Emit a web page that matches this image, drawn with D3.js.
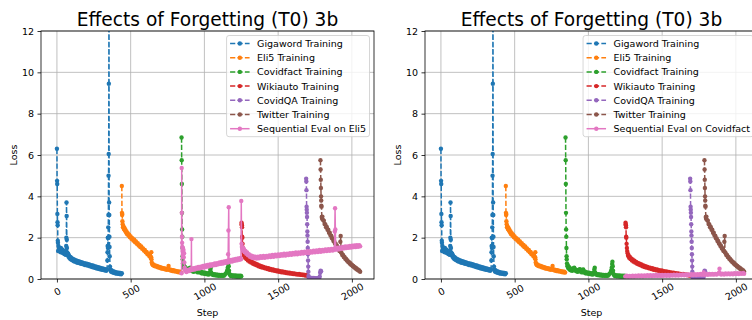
<!DOCTYPE html>
<html>
<head>
<meta charset="utf-8">
<script src="https://cdn.jsdelivr.net/npm/d3@7/dist/d3.min.js"></script>
<style>
  body { margin: 0; background: #fff; }
  svg { display: block; font-family: "DejaVu Sans", sans-serif; }
</style>
</head>
<body>
<svg id="chart" width="752" height="320"></svg>
<script>
// [step, loss] pairs
const gigaword = [[0,6.3],[1,4.75],[2,4.6],[3,3.15],[4,2.75],[5,2.6],[6,1.85],[7,1.75],[8,1.35],[10,1.6],[12,1.4],[15,1.52],[18,1.35],[21,1.47],[24,1.3],[27,1.5],[30,1.33],[33,1.42],[36,1.27],[39,1.42],[42,1.28],[45,1.36],[48,1.22],[51,1.33],[54,1.2],[57,1.3],[60,1.17],[62,1.35],[63,1.6],[64,2.0],[65,3.7],[66,3.05],[67,1.9],[68,1.5],[70,1.28],[73,1.15],[76,1.22],[79,1.08],[82,1.14],[85,1.02],[88,1.08],[91,0.97],[95,1.04],[99,0.93],[103,1.0],[107,0.9],[111,0.96],[115,0.86],[120,0.93],[125,0.83],[130,0.9],[135,0.8],[140,0.87],[145,0.78],[150,0.85],[155,0.76],[160,0.82],[166,0.73],[172,0.8],[178,0.71],[184,0.77],[190,0.68],[196,0.75],[202,0.66],[208,0.73],[214,0.64],[220,0.7],[226,0.61],[232,0.67],[238,0.58],[244,0.65],[250,0.56],[256,0.62],[262,0.53],[268,0.6],[274,0.5],[280,0.57],[286,0.48],[292,0.55],[298,0.46],[304,0.52],[310,0.44],[316,0.5],[322,0.42],[328,0.48],[334,0.4],[340,0.46],[342,0.9],[343,1.3],[344,1.6],[345,2.0],[346,1.5],[347,2.0],[348,2.5],[349,3.1],[350,5.0],[351,6.05],[352,9.45],[353,16],[354,3.7],[355,3.1],[356,2.05],[357,1.55],[358,1.1],[360,0.6],[363,0.45],[366,0.36],[370,0.42],[375,0.33],[380,0.38],[385,0.3],[390,0.35],[395,0.28],[400,0.33],[405,0.26],[410,0.31],[415,0.25],[420,0.3],[425,0.24],[430,0.29],[435,0.23],[440,0.28]];

const eli5 = [[440,4.5],[441,3.2],[442,3.1],[443,3.15],[444,2.8],[446,2.65],[448,2.5],[451,2.55],[454,2.42],[457,2.48],[460,2.36],[464,2.4],[468,2.26],[472,2.3],[476,2.17],[480,2.22],[485,2.1],[490,2.14],[495,2.02],[500,2.06],[506,1.94],[512,1.98],[518,1.86],[524,1.9],[530,1.78],[536,1.82],[542,1.7],[548,1.73],[554,1.62],[560,1.65],[566,1.54],[572,1.57],[578,1.46],[584,1.48],[590,1.38],[596,1.4],[602,1.29],[608,1.31],[614,1.2],[620,1.22],[626,1.11],[632,1.12],[636,1.02],[639,1.05],[640,1.3],[641,0.95],[643,0.8],[646,0.72],[650,0.68],[655,0.7],[660,0.63],[666,0.66],[672,0.6],[678,0.63],[684,0.57],[690,0.6],[696,0.54],[702,0.57],[708,0.51],[714,0.54],[720,0.49],[726,0.52],[732,0.47],[738,0.5],[744,0.45],[750,0.48],[755,0.5],[757,0.63],[759,0.45],[765,0.46],[771,0.41],[777,0.44],[783,0.39],[789,0.42],[795,0.37],[801,0.4],[807,0.36],[813,0.38],[819,0.34],[825,0.36],[831,0.32],[837,0.35],[842,0.31]];

const covidfact = [[845,6.85],[846,5.75],[847,4.6],[848,3.2],[849,2.4],[850,2.05],[851,1.5],[852,1.1],[853,0.95],[855,0.75],[858,0.62],[861,0.66],[864,0.52],[868,0.58],[872,0.46],[876,0.52],[880,0.42],[885,0.48],[890,0.4],[895,0.45],[900,0.52],[904,0.55],[908,0.42],[913,0.46],[918,0.37],[923,0.42],[928,0.35],[933,0.4],[938,0.45],[942,0.48],[946,0.36],[951,0.4],[956,0.32],[961,0.44],[965,0.46],[970,0.33],[975,0.36],[980,0.28],[985,0.33],[990,0.27],[995,0.31],[1000,0.25],[1005,0.3],[1010,0.24],[1015,0.28],[1020,0.23],[1025,0.27],[1030,0.22],[1035,0.3],[1040,0.45],[1043,0.55],[1046,0.32],[1050,0.25],[1055,0.22],[1060,0.19],[1066,0.23],[1072,0.18],[1078,0.22],[1084,0.17],[1090,0.21],[1096,0.16],[1102,0.2],[1108,0.16],[1114,0.2],[1120,0.15],[1126,0.19],[1132,0.16],[1138,0.21],[1144,0.26],[1150,0.3],[1154,0.4],[1158,0.55],[1161,0.72],[1163,0.84],[1165,0.62],[1167,0.4],[1170,0.25],[1175,0.18],[1180,0.14],[1186,0.18],[1192,0.13],[1198,0.17],[1204,0.13],[1210,0.17],[1216,0.12],[1222,0.16],[1228,0.12],[1234,0.16],[1240,0.12],[1246,0.16],[1250,0.13]];

const wikiauto = [[1252,2.72],[1253,2.65],[1254,2.6],[1255,2.5],[1256,2.05],[1257,2.0],[1259,1.7],[1261,1.5],[1263,1.35],[1266,1.25],[1269,1.12],[1272,1.15],[1276,1.03],[1280,1.08],[1285,0.97],[1290,1.0],[1295,0.9],[1300,0.94],[1306,0.84],[1312,0.88],[1318,0.79],[1324,0.83],[1330,0.74],[1336,0.78],[1342,0.7],[1348,0.74],[1354,0.66],[1360,0.7],[1367,0.62],[1374,0.66],[1381,0.58],[1388,0.62],[1395,0.55],[1402,0.58],[1410,0.52],[1418,0.55],[1426,0.48],[1434,0.52],[1442,0.45],[1450,0.49],[1458,0.42],[1466,0.46],[1474,0.4],[1482,0.43],[1490,0.37],[1498,0.41],[1506,0.35],[1514,0.38],[1522,0.33],[1530,0.36],[1538,0.31],[1546,0.34],[1554,0.29],[1562,0.32],[1570,0.27],[1578,0.3],[1586,0.26],[1594,0.28],[1602,0.24],[1610,0.27],[1618,0.23],[1626,0.25],[1634,0.21],[1642,0.24],[1650,0.2],[1658,0.22],[1666,0.19],[1674,0.21],[1682,0.17],[1690,0.2],[1696,0.16]];

const covidqa = [[1690,4.85],[1691,4.72],[1692,4.3],[1693,3.5],[1694,3.35],[1695,3.2],[1696,3.0],[1697,2.65],[1698,2.3],[1699,2.1],[1700,1.8],[1701,1.5],[1702,1.2],[1703,0.9],[1704,0.6],[1705,0.35],[1706,0.15],[1708,0.06],[1712,0.04],[1718,0.06],[1724,0.03],[1730,0.05],[1736,0.03],[1742,0.05],[1748,0.02],[1754,0.04],[1760,0.02],[1766,0.04],[1772,0.03],[1778,0.05],[1782,0.12],[1785,0.3],[1788,0.4],[1791,0.38]];

const twitter = [[1787,5.75],[1788,5.3],[1789,4.8],[1790,4.4],[1791,4.0],[1792,3.8],[1793,3.55],[1794,3.5],[1796,3.0],[1798,2.92],[1800,3.02],[1805,2.85],[1810,2.82],[1815,2.66],[1820,2.64],[1825,2.5],[1830,2.52],[1835,2.38],[1840,2.38],[1845,2.24],[1850,2.24],[1855,2.1],[1860,2.1],[1865,1.97],[1870,1.96],[1875,1.84],[1880,1.84],[1885,1.72],[1890,1.71],[1895,1.6],[1900,1.6],[1905,1.48],[1910,1.48],[1915,1.37],[1920,1.36],[1922,1.8],[1924,2.08],[1926,1.3],[1930,1.26],[1935,1.16],[1940,1.16],[1945,1.06],[1950,1.07],[1955,0.98],[1960,0.98],[1965,0.9],[1970,0.9],[1975,0.82],[1980,0.83],[1985,0.75],[1990,0.76],[1995,0.69],[2000,0.69],[2005,0.63],[2010,0.63],[2015,0.57],[2020,0.57],[2025,0.51],[2030,0.52],[2035,0.46],[2040,0.46],[2045,0.41],[2050,0.41],[2056,0.35]];

const seqEvalEli5 = [[845,0.28],[846,5.37],[847,3.2],[848,2.05],[849,1.75],[850,1.55],[852,1.35],[854,1.5],[856,1.2],[858,1.4],[860,1.05],[862,1.25],[864,0.8],[866,0.55],[868,0.45],[870,0.4],[878,0.34],[886,0.44],[894,0.38],[902,0.48],[908,0.42],[911,0.5],[912,1.93],[913,0.5],[918,0.44],[926,0.52],[934,0.46],[942,0.55],[950,0.49],[958,0.58],[966,0.51],[974,0.6],[982,0.54],[990,0.63],[998,0.56],[1006,0.65],[1014,0.59],[1022,0.68],[1030,0.61],[1038,0.7],[1046,0.64],[1054,0.72],[1062,0.66],[1070,0.75],[1078,0.68],[1086,0.77],[1094,0.71],[1102,0.8],[1110,0.73],[1118,0.82],[1126,0.75],[1134,0.85],[1142,0.78],[1150,0.87],[1158,0.8],[1161,1.2],[1163,2.35],[1165,3.47],[1167,0.9],[1172,0.83],[1180,0.92],[1188,0.85],[1196,0.95],[1204,0.88],[1212,0.97],[1220,0.9],[1228,1.0],[1236,0.93],[1244,1.02],[1248,0.95],[1250,3.78],[1252,1.7],[1254,1.55],[1257,1.45],[1260,1.52],[1264,1.38],[1268,1.45],[1273,1.3],[1278,1.36],[1284,1.22],[1290,1.28],[1296,1.15],[1302,1.2],[1309,1.08],[1316,1.14],[1323,1.03],[1330,1.1],[1338,1.0],[1346,1.08],[1354,0.99],[1362,1.08],[1370,1.0],[1380,1.1],[1390,1.02],[1400,1.11],[1410,1.03],[1420,1.12],[1430,1.05],[1440,1.14],[1450,1.06],[1460,1.16],[1470,1.08],[1480,1.17],[1490,1.1],[1500,1.19],[1510,1.11],[1520,1.2],[1530,1.13],[1540,1.22],[1550,1.14],[1560,1.23],[1570,1.16],[1580,1.25],[1590,1.17],[1600,1.26],[1610,1.19],[1620,1.28],[1630,1.2],[1640,1.29],[1650,1.22],[1660,1.31],[1670,1.23],[1680,1.32],[1690,1.25],[1700,1.34],[1710,1.26],[1720,1.35],[1730,1.28],[1740,1.37],[1750,1.29],[1760,1.38],[1770,1.31],[1780,1.4],[1790,1.32],[1800,1.41],[1810,1.34],[1820,1.43],[1830,1.35],[1840,1.44],[1850,1.37],[1860,1.46],[1870,1.38],[1878,1.47],[1882,1.42],[1884,2.3],[1886,3.42],[1888,2.4],[1890,1.5],[1898,1.42],[1906,1.52],[1914,1.44],[1922,1.53],[1930,1.46],[1938,1.55],[1946,1.48],[1954,1.57],[1962,1.5],[1970,1.58],[1978,1.51],[1986,1.6],[1994,1.52],[2002,1.61],[2010,1.54],[2018,1.62],[2026,1.55],[2034,1.63],[2042,1.56],[2050,1.64],[2056,1.58]];

const seqEvalCovidfact = [[1250,0.12],[1260,0.16],[1270,0.11],[1280,0.15],[1290,0.12],[1300,0.16],[1310,0.12],[1320,0.16],[1330,0.13],[1340,0.17],[1350,0.13],[1360,0.17],[1370,0.13],[1380,0.17],[1390,0.14],[1400,0.18],[1410,0.14],[1420,0.18],[1430,0.14],[1440,0.18],[1450,0.15],[1460,0.19],[1470,0.15],[1480,0.19],[1490,0.15],[1500,0.19],[1510,0.16],[1520,0.2],[1530,0.16],[1540,0.2],[1550,0.16],[1560,0.2],[1570,0.17],[1580,0.21],[1590,0.17],[1600,0.21],[1610,0.17],[1620,0.21],[1630,0.18],[1640,0.22],[1650,0.18],[1660,0.22],[1670,0.18],[1680,0.22],[1690,0.19],[1700,0.23],[1710,0.19],[1720,0.23],[1730,0.19],[1740,0.23],[1750,0.2],[1760,0.24],[1770,0.2],[1778,0.24],[1782,0.32],[1786,0.22],[1790,0.2],[1800,0.24],[1810,0.2],[1820,0.25],[1830,0.21],[1840,0.25],[1850,0.21],[1860,0.25],[1870,0.22],[1880,0.26],[1886,0.3],[1889,0.5],[1892,0.28],[1900,0.22],[1910,0.26],[1920,0.22],[1930,0.27],[1940,0.23],[1950,0.27],[1960,0.23],[1970,0.27],[1980,0.23],[1990,0.28],[2000,0.24],[2010,0.28],[2020,0.24],[2030,0.28],[2040,0.25],[2050,0.29],[2056,0.25]];

const trainNames = ['Gigaword Training', 'Eli5 Training', 'Covidfact Training', 'Wikiauto Training', 'CovidQA Training', 'Twitter Training'];
const trainData = [gigaword, eli5, covidfact, wikiauto, covidqa, twitter];
const colors = ['#1f77b4', '#ff7f0e', '#2ca02c', '#d62728', '#9467bd', '#8c564b', '#e377c2'];
const xTicks = [0, 500, 1000, 1500, 2000];
const yTicks = [0, 2, 4, 6, 8, 10, 12];
const titleText = 'Effects of Forgetting (T0) 3b';

const svg = d3.select('#chart');

// axes geometry
const axW = 333;
const axTop = 31;
const axBottom = 279;
const fs = 9.5;
const markR = 2.2;

const panels = [
  { left: 41, evalName: 'Sequential Eval on Eli5', evalData: seqEvalEli5 },
  { left: 425, evalName: 'Sequential Eval on Covidfact', evalData: seqEvalCovidfact }
];

panels.forEach((p, i) => {
  const g = svg.append('g');
  const right = p.left + axW;

  const x = d3.scaleLinear().domain([-108, 2150]).range([p.left, right]);
  const y = d3.scaleLinear().domain([0, 12]).range([axBottom, axTop]);

  svg.append('clipPath').attr('id', 'clip' + i)
    .append('rect')
    .attr('x', p.left).attr('y', axTop)
    .attr('width', axW).attr('height', axBottom - axTop);

  // grid
  g.append('g').selectAll('line').data(xTicks).enter().append('line')
    .attr('x1', d => x(d)).attr('x2', d => x(d))
    .attr('y1', axTop).attr('y2', axBottom)
    .attr('stroke', '#b0b0b0').attr('stroke-width', 0.8);
  g.append('g').selectAll('line').data(yTicks).enter().append('line')
    .attr('x1', p.left).attr('x2', right)
    .attr('y1', d => y(d)).attr('y2', d => y(d))
    .attr('stroke', '#b0b0b0').attr('stroke-width', 0.8);

  const line = d3.line().x(d => x(d[0])).y(d => y(d[1]));
  const plot = g.append('g').attr('clip-path', 'url(#clip' + i + ')');

  const allSeries = trainData.map((d, k) => ({ data: d, color: colors[k], dashed: true }))
    .concat([{ data: p.evalData, color: colors[6], dashed: false }]);

  allSeries.forEach(s => {
    plot.append('path')
      .attr('d', line(s.data))
      .attr('fill', 'none')
      .attr('stroke', s.color)
      .attr('stroke-width', 1.5)
      .attr('stroke-dasharray', s.dashed ? '5.2,2.2' : null);
    plot.append('g').selectAll('circle').data(s.data).enter().append('circle')
      .attr('cx', d => x(d[0])).attr('cy', d => y(d[1]))
      .attr('r', markR)
      .attr('fill', s.color);
  });

  // spines
  g.append('rect')
    .attr('x', p.left).attr('y', axTop)
    .attr('width', axW).attr('height', axBottom - axTop)
    .attr('fill', 'none').attr('stroke', '#000').attr('stroke-width', 0.8);

  // y axis
  const yAxis = g.append('g')
    .attr('transform', 'translate(' + p.left + ',0)')
    .call(d3.axisLeft(y).tickValues(yTicks).tickSize(3.5).tickPadding(3.5));
  yAxis.select('.domain').remove();
  yAxis.selectAll('line').attr('stroke-width', 0.8);
  yAxis.selectAll('text').attr('font-size', fs).attr('font-family', 'DejaVu Sans').attr('fill', '#000');

  // x axis with rotated labels
  const xAxis = g.append('g')
    .attr('transform', 'translate(0,' + axBottom + ')')
    .call(d3.axisBottom(x).tickValues(xTicks).tickFormat(d3.format('d')).tickSize(3.5));
  xAxis.select('.domain').remove();
  xAxis.selectAll('line').attr('stroke-width', 0.8);
  xAxis.selectAll('text')
    .attr('font-size', fs).attr('font-family', 'DejaVu Sans').attr('fill', '#000')
    .attr('y', 0).attr('dy', null)
    .attr('text-anchor', 'middle')
    .attr('dominant-baseline', 'central')
    .attr('transform', 'translate(0,12.5) rotate(-30)');

  // labels
  g.append('text')
    .attr('x', (p.left + right) / 2).attr('y', 25.5)
    .attr('text-anchor', 'middle')
    .attr('font-size', 18.6)
    .text(titleText);
  g.append('text')
    .attr('x', (p.left + right) / 2).attr('y', 316)
    .attr('text-anchor', 'middle')
    .attr('font-size', fs)
    .text('Step');
  g.append('text')
    .attr('transform', 'translate(' + (p.left - 24.5) + ',' + ((axTop + axBottom) / 2) + ') rotate(-90)')
    .attr('text-anchor', 'middle')
    .attr('font-size', fs)
    .text('Loss');

  // legend
  const names = trainNames.concat([p.evalName]);
  const leg = g.append('g');
  const box = leg.append('rect');
  const rowH = 14.2;
  const texts = names.map((n, k) => leg.append('text')
    .attr('font-size', fs)
    .attr('dominant-baseline', 'central')
    .text(n));
  const textW = d3.max(texts, t => t.node().getComputedTextLength());
  const boxRight = right - 4.5;
  const boxW = 3.5 + 19.5 + 7.5 + textW + 3.5;
  const boxLeft = boxRight - boxW;
  const boxTop = axTop + 4.5;
  const boxH = 7 + rowH * 6 + 9;
  box.attr('x', boxLeft).attr('y', boxTop)
    .attr('width', boxW).attr('height', boxH)
    .attr('rx', 2.5)
    .attr('fill', '#fff').attr('fill-opacity', 0.8)
    .attr('stroke', '#cccccc').attr('stroke-width', 0.8);
  names.forEach((n, k) => {
    const cy = boxTop + 8 + k * rowH;
    const hx = boxLeft + 3.5;
    leg.append('line')
      .attr('x1', hx).attr('x2', hx + 19.5)
      .attr('y1', cy).attr('y2', cy)
      .attr('stroke', colors[k]).attr('stroke-width', 1.5)
      .attr('stroke-dasharray', k < 6 ? '5.2,2.2' : null);
    leg.append('circle')
      .attr('cx', hx + 9.75).attr('cy', cy).attr('r', markR)
      .attr('fill', colors[k]);
    texts[k].attr('x', hx + 19.5 + 7.5).attr('y', cy).raise();
  });
});
</script>
</body>
</html>
